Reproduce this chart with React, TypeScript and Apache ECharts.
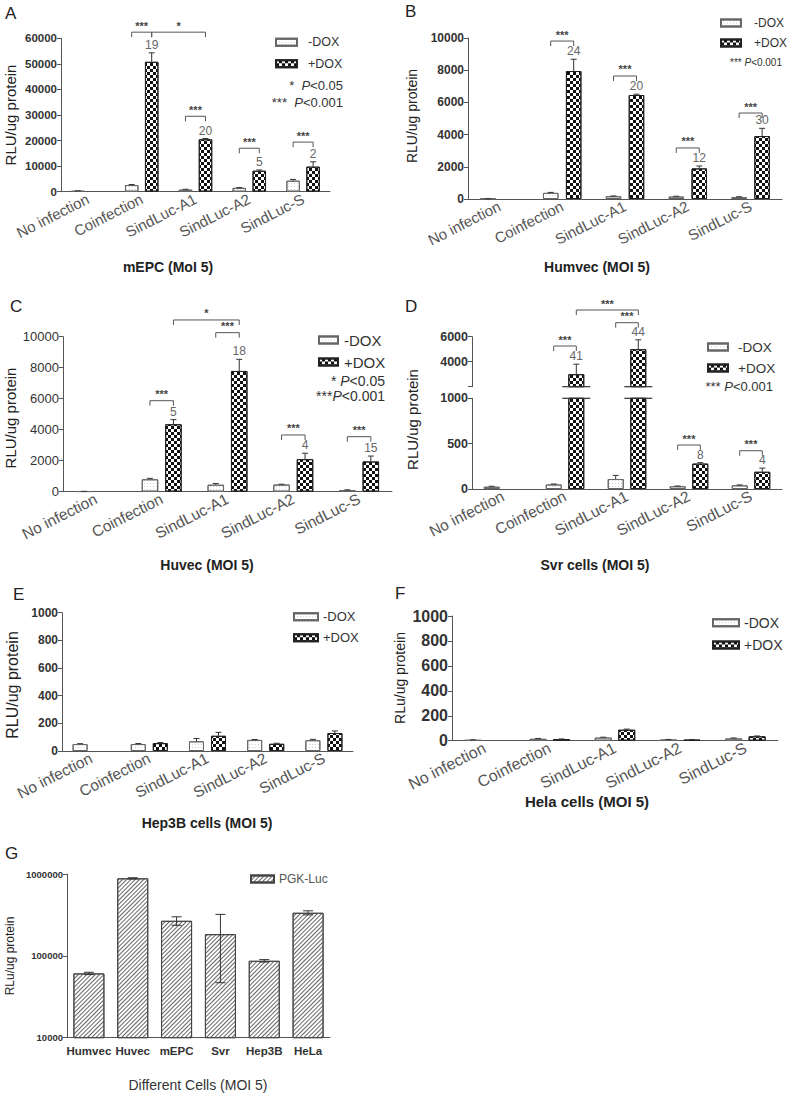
import React, { useEffect, useRef } from 'react';
import * as echarts from 'echarts';

const FONT = '"Liberation Sans", Arial, Helvetica, sans-serif';

const categories = ['No infection', 'Coinfection', 'SindLuc-A1', 'SindLuc-A2', 'SindLuc-S'];

// A: mEPC
const mepcMinus = [300, 2600, 800, 1500, 4300];
const mepcMinusErr = [50, 200, 150, 100, 500];
const mepcPlus = [null, 50800, 20500, 8200, 9800];
const mepcPlusErr = [null, 3500, 300, 300, 1900];
const mepcFold = ['', '19', '20', '5', '2'];
// [fromGroup, fromSide, toGroup, toSide, level, label]
const mepcSig: any[] = [
  [1, -1, 1, 1, 62400, '***'],
  [1, 1, 2, 1, 62400, '*'],
  [2, -1, 2, 1, 29500, '***'],
  [3, -1, 3, 1, 17000, '***'],
  [4, -1, 4, 1, 19400, '***'],
];

// B: Humvec
const humvecMinus = [10, 380, 170, 150, 120];
const humvecMinusErr = [5, 30, 20, 20, 20];
const humvecPlus = [null, 7950, 6460, 1900, 3910];
const humvecPlusErr = [null, 730, 50, 150, 480];
const humvecFold = ['', '24', '20', '12', '30'];
const humvecSig: any[] = [
  [1, -1, 1, 1, 9810, '***'],
  [2, -1, 2, 1, 7640, '***'],
  [3, -1, 3, 1, 3170, '***'],
  [4, -1, 4, 1, 5340, '***'],
];

// C: Huvec
const huvecMinus = [20, 800, 450, 460, 100];
const huvecMinusErr = [5, 60, 80, 20, 20];
const huvecPlus = [null, 4350, 7790, 2100, 1950];
const huvecPlusErr = [null, 300, 750, 380, 350];
const huvecFold = ['', '5', '18', '4', '15'];
const huvecSig: any[] = [
  [1, -1, 1, 1, 5870, '***'],
  [2, -1, 2, 1, 10260, '***'],
  [1, 1, 2, 1, 11080, '*'],
  [3, -1, 3, 1, 3660, '***'],
  [4, -1, 4, 1, 3550, '***'],
];

// D: Svr cells (broken axis)
const svrMinus = [25, 50, 110, 30, 40];
const svrMinusErr = [5, 5, 40, 3, 5];
const svrPlus = [null, 3000, 5000, 280, 190];
const svrPlusErr = [null, 800, 750, 10, 40];
const svrFold = ['', '41', '44', '8', '4'];
const svrSig: any[] = [
  [1, -1, 1, 1, 5256, '***'],
  [2, -1, 2, 1, 7120, '***'],
  [1, 1, 2, 1, 8136, '***'],
  [3, -1, 3, 1, 485, '***'],
  [4, -1, 4, 1, 422, '***'],
];

// E: Hep3B cells
const hep3bMinus = [50, 50, 70, 80, 78];
const hep3bMinusErr = [3, 4, 20, 3, 6];
const hep3bPlus = [null, 57, 110, 52, 130];
const hep3bPlusErr = [null, 4, 25, 4, 15];

// F: Hela cells
const helaMinus = [5, 15, 25, 8, 18];
const helaMinusErr = [2, 3, 3, 2, 4];
const helaPlus = [null, 12, 88, 7, 35];
const helaPlusErr = [null, 2, 5, 2, 3];

// G: PGK-Luc in different cells
const cells = ['Humvec', 'Huvec', 'mEPC', 'Svr', 'Hep3B', 'HeLa'];
const pgkLuc = [61000, 885000, 268000, 184000, 87000, 336000];
const pgkLucErr = [2000, 15000, 32000, 137000, 3000, 19000];

const AXIS = '#555';

const minusDecal = { symbol: 'rect', symbolSize: 1, dashArrayX: [1, 2], dashArrayY: [1, 2], color: '#cfcfcf' };
const plusDecal = { symbol: 'rect', symbolSize: 1, dashArrayX: [[3, 3], [0, 3, 3, 0]], dashArrayY: [3, 0], color: '#111' };
const hatchDecal = { symbol: 'rect', symbolSize: 1, dashArrayX: [1, 0], dashArrayY: [1, 2], rotation: -Math.PI / 4, color: '#666' };

const minusStyle = { color: '#fff', borderColor: '#666', borderWidth: 1, decal: minusDecal };
const plusStyle = { color: '#fff', borderColor: '#222', borderWidth: 1, decal: plusDecal };

function buildOption() {
  const grid: any[] = [];
  const xAxis: any[] = [];
  const yAxis: any[] = [];
  const series: any[] = [];

  const addPanel = (p: any) => {
    const gi = grid.length;
    grid.push({ ...p.grid, containLabel: false });
    xAxis.push({
      type: 'category', gridIndex: gi, data: p.cats || categories, show: p.showX !== false,
      axisLine: { lineStyle: { color: AXIS } },
      axisTick: { alignWithLabel: true, length: 4, lineStyle: { color: AXIS } },
      axisLabel: {
        interval: 0, rotate: p.xRotate ?? 27, fontSize: p.xSize, color: p.xColor || '#555',
        fontWeight: p.xWeight || 'normal', margin: p.xMargin ?? 6, fontFamily: FONT,
      },
    });
    yAxis.push({
      type: p.log ? 'log' : 'value', logBase: 10, gridIndex: gi, min: p.yMin ?? 0, max: p.yMax,
      interval: p.log ? undefined : p.yInterval,
      splitLine: { show: false }, minorTick: { show: false },
      axisLine: { show: true, lineStyle: { color: AXIS } },
      axisTick: { show: true, length: 4, lineStyle: { color: AXIS } },
      axisLabel: {
        fontSize: p.ySize, fontWeight: p.yWeight, color: '#333', margin: 4, fontFamily: FONT,
        formatter: p.yFormatter || ((v: number) => String(v)),
      },
    });
    return gi;
  };

  const bars = (gi: number, minus: any[], plus: any[], w: number, gap: number) => {
    const barGap = Math.round((gap / w) * 100) + '%';
    series.push(
      { type: 'bar', name: '-DOX', xAxisIndex: gi, yAxisIndex: gi, data: minus, barWidth: w, barGap, itemStyle: minusStyle, silent: true },
      { type: 'bar', name: '+DOX', xAxisIndex: gi, yAxisIndex: gi, data: plus, barWidth: w, barGap, itemStyle: plusStyle, silent: true },
    );
  };

  const errors = (gi: number, values: any[], errs: any[], offset: number, labels?: string[], range?: number[], both = false, cap = 3) => {
    const items: any[] = [];
    values.forEach((v, i) => {
      if (v == null) return;
      if (range && (v < range[0] || v > range[1])) return;
      items.push({ value: [i, v, errs[i] ?? 0], lab: labels ? labels[i] : '' });
    });
    series.push({
      type: 'custom', xAxisIndex: gi, yAxisIndex: gi, z: 5, silent: true,
      data: items.map((it) => it.value),
      renderItem: (params: any, api: any) => {
        const i = api.value(0), v = api.value(1), e = api.value(2);
        const lab = items[params.dataIndex].lab;
        const b = api.coord([i, v]);
        const t = api.coord([i, v + e]);
        const lo = api.coord([i, Math.max(v - e, 1e-9)]);
        const x = b[0] + offset;
        const st = { stroke: '#333', lineWidth: 1 };
        const children: any[] = [];
        if (e > 0) {
          children.push({ type: 'line', shape: { x1: x, y1: both ? lo[1] : b[1], x2: x, y2: t[1] }, style: st });
          children.push({ type: 'line', shape: { x1: x - cap, y1: t[1], x2: x + cap, y2: t[1] }, style: st });
          if (both) children.push({ type: 'line', shape: { x1: x - cap, y1: lo[1], x2: x + cap, y2: lo[1] }, style: st });
        }
        if (lab) {
          children.push({
            type: 'text',
            style: { text: lab, x, y: t[1] - 2, textAlign: 'center', textVerticalAlign: 'bottom', fill: '#666', font: `12px ${FONT}` },
          });
        }
        return { type: 'group', children };
      },
    });
  };

  const sigs = (gi: number, list: any[], offset: number) => {
    series.push({
      type: 'custom', xAxisIndex: gi, yAxisIndex: gi, z: 6, silent: true,
      data: list.map((s) => [s[0], s[4]]),
      renderItem: (params: any, api: any) => {
        const s = list[params.dataIndex];
        const p1 = api.coord([s[0], s[4]]);
        const p2 = api.coord([s[2], s[4]]);
        const x1 = p1[0] + s[1] * offset;
        const x2 = p2[0] + s[3] * offset;
        const y = p1[1];
        return {
          type: 'group',
          children: [
            { type: 'polyline', shape: { points: [[x1, y + 5], [x1, y], [x2, y], [x2, y + 5]] }, style: { stroke: '#555', fill: null, lineWidth: 1 } },
            { type: 'text', style: { text: s[5], x: (x1 + x2) / 2, y: y - 1, textAlign: 'center', textVerticalAlign: 'bottom', fill: '#444', font: `bold 11px ${FONT}` } },
          ],
        };
      },
    });
  };

  const breaks = (gi: number, values: any[], threshold: number, lineAt: number, offset: number, halfW: number) => {
    const data = values.map((v, i) => (v != null && v > threshold ? [i, lineAt] : null)).filter(Boolean);
    series.push({
      type: 'custom', xAxisIndex: gi, yAxisIndex: gi, z: 7, silent: true, data,
      renderItem: (params: any, api: any) => {
        const p = api.coord([api.value(0), api.value(1)]);
        const x = p[0] + offset;
        return { type: 'line', shape: { x1: x - halfW, y1: p[1], x2: x + halfW, y2: p[1] }, style: { stroke: '#333', lineWidth: 1.2 } };
      },
    });
  };

  // A
  {
    const w = 13.5, g = 6.5, off = (w + g) / 2;
    const gi = addPanel({ grid: { left: 61, top: 38.3, width: 269, height: 153.4 }, yMax: 60000, yInterval: 10000, ySize: 11.5, yWeight: 'bold', xSize: 15 });
    bars(gi, mepcMinus, mepcPlus, w, g);
    errors(gi, mepcMinus, mepcMinusErr, -off);
    errors(gi, mepcPlus, mepcPlusErr, off, mepcFold);
    sigs(gi, mepcSig, off);
  }
  // B
  {
    const w = 15.5, g = 7.5, off = (w + g) / 2;
    const gi = addPanel({ grid: { left: 468, top: 38, width: 314, height: 161 }, yMax: 10000, yInterval: 2000, ySize: 12, yWeight: 'bold', xSize: 15 });
    bars(gi, humvecMinus, humvecPlus, w, g);
    errors(gi, humvecMinus, humvecMinusErr, -off);
    errors(gi, humvecPlus, humvecPlusErr, off, humvecFold);
    sigs(gi, humvecSig, off);
  }
  // C
  {
    const w = 16.5, g = 7, off = (w + g) / 2;
    const gi = addPanel({ grid: { left: 63, top: 336.7, width: 329, height: 155 }, yMax: 10000, yInterval: 2000, ySize: 13, yWeight: 'normal', xSize: 15.5 });
    bars(gi, huvecMinus, huvecPlus, w, g);
    errors(gi, huvecMinus, huvecMinusErr, -off);
    errors(gi, huvecPlus, huvecPlusErr, off, huvecFold);
    sigs(gi, huvecSig, off);
  }
  // D (upper + lower)
  {
    const w = 16, g = 6.6, off = (w + g) / 2;
    const upMin = 2000, upMax = 6000, lowMax = 1000;
    const gu = addPanel({
      grid: { left: 472, top: 336.7, width: 310, height: 50 }, yMin: upMin, yMax: upMax, yInterval: 2000, ySize: 12.5, yWeight: 'bold',
      xSize: 15.5, showX: false, yFormatter: (v: number) => (v === upMin ? '' : String(v)),
    });
    const gl = addPanel({ grid: { left: 472, top: 398.3, width: 310, height: 90.7 }, yMax: lowMax, yInterval: 500, ySize: 12.5, yWeight: 'bold', xSize: 15.5 });
    bars(gu, svrMinus, svrPlus, w, g);
    bars(gl, svrMinus, svrPlus, w, g);
    errors(gl, svrMinus, svrMinusErr, -off);
    errors(gu, svrPlus, svrPlusErr, off, svrFold, [upMin, upMax]);
    errors(gl, svrPlus, svrPlusErr, off, svrFold, [0, lowMax]);
    sigs(gu, svrSig.filter((s) => s[4] > lowMax), off);
    sigs(gl, svrSig.filter((s) => s[4] <= lowMax), off);
    breaks(gu, svrPlus, lowMax, upMin, off, w / 2 + 6);
    breaks(gl, svrPlus, lowMax, lowMax, off, w / 2 + 6);
  }
  // E
  {
    const w = 15, g = 7, off = (w + g) / 2;
    const gi = addPanel({ grid: { left: 62, top: 612.7, width: 291, height: 138.3 }, yMax: 1000, yInterval: 200, ySize: 12, yWeight: 'bold', xSize: 15.5 });
    bars(gi, hep3bMinus, hep3bPlus, w, g);
    errors(gi, hep3bMinus, hep3bMinusErr, -off);
    errors(gi, hep3bPlus, hep3bPlusErr, off);
  }
  // F
  {
    const w = 17, g = 6.5, off = (w + g) / 2;
    const gi = addPanel({ grid: { left: 452, top: 616, width: 326, height: 124.7 }, yMax: 1000, yInterval: 200, ySize: 16, yWeight: 'bold', xSize: 16 });
    bars(gi, helaMinus, helaPlus, w, g);
    errors(gi, helaMinus, helaMinusErr, -off);
    errors(gi, helaPlus, helaPlusErr, off);
  }
  // G
  {
    const gi = addPanel({
      grid: { left: 67, top: 874, width: 263, height: 163.7 }, log: true, yMin: 10000, yMax: 1000000, ySize: 9.5, yWeight: 'bold',
      xSize: 11.5, xRotate: 0, xWeight: 'bold', xColor: '#333', cats: cells, xMargin: 7,
    });
    series.push({
      type: 'bar', name: 'PGK-Luc', xAxisIndex: gi, yAxisIndex: gi, data: pgkLuc, barWidth: 31, silent: true,
      itemStyle: { color: '#fff', borderColor: '#444', borderWidth: 1, decal: hatchDecal },
    });
    errors(gi, pgkLuc, pgkLucErr, 0, undefined, undefined, true, 5);
  }

  const leg = (left: number, top: number, gap: number, fs: number, iw: number, pad: number, data = ['-DOX', '+DOX'], color = '#333') => ({
    orient: 'vertical', left, top, padding: 0, itemGap: gap, itemWidth: iw, itemHeight: 7, selectedMode: false, icon: 'rect',
    data, textStyle: { fontSize: fs, color, fontFamily: FONT, padding: [0, 0, 0, pad] },
  });
  const legend = [
    leg(275, 35.75, 8.5, 12.5, 21, 6),
    leg(720, 17, 8, 12, 20, 8),
    leg(318, 332.5, 7, 15, 19, 1),
    leg(707, 340, 7.1, 13.5, 20, 5),
    leg(293, 610.2, 8, 13, 24, 0),
    leg(712, 615.7, 8.3, 14, 26, 0),
    leg(250, 873, 8, 12, 23, 0, ['PGK-Luc'], '#555'),
  ];

  const txt = (text: string, x: number, y: number, font: string, opts: any = {}) => ({
    type: 'text', x, y, rotation: opts.rotation || 0, silent: true,
    style: {
      text, font, fill: opts.fill || '#222', textAlign: opts.align || 'center', textVerticalAlign: 'middle', rich: opts.rich,
    },
  });
  const pRich = (fs: number) => ({
    s: { fontSize: fs, fontFamily: FONT, fill: '#333' },
    i: { fontSize: fs, fontFamily: FONT, fontStyle: 'italic', fill: '#333' },
  });
  const V = Math.PI / 2;
  const graphic = [
    txt('A', 5, 13, `17px ${FONT}`, { align: 'left' }),
    txt('B', 405, 11, `17px ${FONT}`, { align: 'left' }),
    txt('C', 10, 306, `17px ${FONT}`, { align: 'left' }),
    txt('D', 405, 306, `17px ${FONT}`, { align: 'left' }),
    txt('E', 13, 594, `17px ${FONT}`, { align: 'left' }),
    txt('F', 395, 593, `17px ${FONT}`, { align: 'left' }),
    txt('G', 5, 853, `17px ${FONT}`, { align: 'left' }),

    txt('RLU/ug protein', 10, 115, `15px ${FONT}`, { rotation: V }),
    txt('RLU/ug protein', 412, 116, `14px ${FONT}`, { rotation: V }),
    txt('RLU/ug protein', 10, 418, `15px ${FONT}`, { rotation: V }),
    txt('RLU/ug protein', 412, 419.5, `15px ${FONT}`, { rotation: V }),
    txt('RLU/ug protein', 12, 685, `16px ${FONT}`, { rotation: V }),
    txt('RLu/ug protein', 400, 678, `14px ${FONT}`, { rotation: V }),
    txt('RLu/ug protein', 10, 956, `12px ${FONT}`, { rotation: V }),

    txt('mEPC (MoI 5)', 168, 267, `bold 14px ${FONT}`),
    txt('Humvec (MOI 5)', 597, 267, `bold 14px ${FONT}`),
    txt('Huvec (MOI 5)', 207, 565, `bold 14px ${FONT}`),
    txt('Svr cells (MOI 5)', 595, 565, `bold 14px ${FONT}`),
    txt('Hep3B cells (MOI 5)', 207, 823, `bold 14px ${FONT}`),
    txt('Hela cells (MOI 5)', 587, 801, `bold 15px ${FONT}`),
    txt('Different Cells (MOI 5)', 198, 1085, `14px ${FONT}`, { fill: '#333' }),

    txt('{s|*  }{i|P}{s|<0.05}', 343, 85, `13px ${FONT}`, { align: 'right', rich: pRich(13) }),
    txt('{s|***  }{i|P}{s|<0.001}', 343, 102, `13px ${FONT}`, { align: 'right', rich: pRich(13) }),
    txt('{s|*** }{i|P}{s|<0.001}', 782, 62, `10px ${FONT}`, { align: 'right', rich: pRich(10) }),
    txt('{s|* }{i|P}{s|<0.05}', 385, 381, `14px ${FONT}`, { align: 'right', rich: pRich(14) }),
    txt('{s|***}{i|P}{s|<0.001}', 385, 396, `14px ${FONT}`, { align: 'right', rich: pRich(14) }),
    txt('{s|*** }{i|P}{s|<0.001}', 773, 386.7, `13px ${FONT}`, { align: 'right', rich: pRich(13) }),
  ];

  return {
    animation: false,
    backgroundColor: '#fff',
    textStyle: { fontFamily: FONT },
    grid, xAxis, yAxis, series, legend, graphic,
  };
}

export default function App() {
  const ref = useRef<HTMLDivElement>(null);
  useEffect(() => {
    const chart = echarts.init(ref.current as HTMLDivElement, null, { renderer: 'svg' });
    chart.setOption(buildOption() as any);
    return () => chart.dispose();
  }, []);
  return <div ref={ref} style={{ position: 'absolute', left: 0, top: 0, width: 787, height: 1094 }} />;
}
